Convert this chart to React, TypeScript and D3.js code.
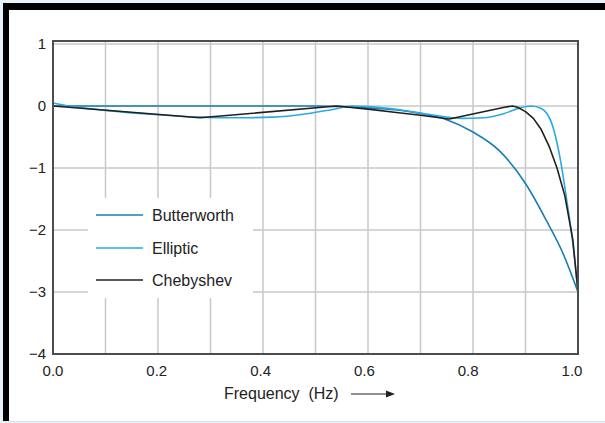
import * as d3 from 'd3';
import React from 'react';

// frequency (Hz) and response values
const butterFreq = [0, 0.5, 0.55, 0.6, 0.65, 0.7, 0.75, 0.8, 0.85, 0.9, 0.94, 0.97, 1.0];
const butterVal = [0, 0, -0.01, -0.03, -0.06, -0.12, -0.22, -0.42, -0.72, -1.25, -1.85, -2.35, -3.0];

const ellipFreq = [0, 0.03, 0.1, 0.2, 0.28, 0.35, 0.42, 0.48, 0.53, 0.57, 0.6, 0.66, 0.72, 0.78, 0.82, 0.86, 0.89, 0.91, 0.93, 0.95, 0.965, 0.98, 0.99, 1.0];
const ellipVal = [0.05, 0.0, -0.07, -0.14, -0.18, -0.19, -0.18, -0.13, -0.06, 0, -0.01, -0.06, -0.14, -0.2, -0.19, -0.12, -0.03, 0, -0.04, -0.28, -0.8, -1.6, -2.2, -3.0];

// chebyshev is drawn with straight segments, so the roll-off is read more densely
const chebFreq = [0, 0.28, 0.54, 0.6, 0.65, 0.7, 0.755, 0.86, 0.875, 0.885, 0.9, 0.915, 0.93, 0.945, 0.96, 0.975, 0.99, 1.0];
const chebVal = [0, -0.19, 0, -0.05, -0.1, -0.15, -0.21, -0.02, 0, -0.02, -0.09, -0.2, -0.38, -0.65, -1.0, -1.45, -2.15, -3.0];

const xTicks = [0, 0.2, 0.4, 0.6, 0.8, 1.0];
const xGrid = [0.1, 0.2, 0.3, 0.4, 0.5, 0.6, 0.7, 0.8, 0.9];
const yTicks = [1, 0, -1, -2, -3, -4];
const yGrid = [1, 0, -1, -2, -3];

const seriesNames = ['Butterworth', 'Elliptic', 'Chebyshev'];
const seriesColors = ['#1a7db3', '#29abe2', '#231f20'];

const FONT = '"Liberation Sans", Arial, Helvetica, sans-serif';

export default function App() {
  const W = 605;
  const H = 423;
  const left = 53;
  const right = 578;
  const top = 41;
  const bottom = 354;

  const x = d3.scaleLinear().domain([0, 1]).range([left, right]);
  const y = d3.scaleLinear().domain([-4, 1]).range([bottom, 44]);

  const smooth = d3
    .line<[number, number]>()
    .x((d) => x(d[0]))
    .y((d) => y(d[1]))
    .curve(d3.curveMonotoneX);
  const straight = d3
    .line<[number, number]>()
    .x((d) => x(d[0]))
    .y((d) => y(d[1]))
    .curve(d3.curveLinear);

  const series = [
    butterFreq.map((f, i) => [f, butterVal[i]] as [number, number]),
    ellipFreq.map((f, i) => [f, ellipVal[i]] as [number, number]),
    chebFreq.map((f, i) => [f, chebVal[i]] as [number, number]),
  ];

  const fmtY = (v: number) => (v < 0 ? '\u2212' + Math.abs(v) : String(v));
  const legendRows = [215, 248, 280];

  return (
    <div style={{ position: 'fixed', left: 0, top: 0 }}>
      <svg width={W} height={H} style={{ display: 'block' }}>
        <rect x={0} y={0} width={W} height={H} fill="#e6f4fa" />
        <rect x={3} y={3} width={W - 3} height={H - 5} fill="#fff" />
        {/* heavy black edge on top and left */}
        <rect x={3} y={3} width={W - 3} height={7} fill="#000" />
        <rect x={3} y={3} width={6} height={H - 5} fill="#000" />
        <line x1={9} x2={W} y1={421.5} y2={421.5} stroke="#e2e2e2" />

        {/* grid */}
        {xGrid.map((v) => (
          <line key={'gx' + v} x1={x(v)} x2={x(v)} y1={top} y2={bottom} stroke="#c8c8c8" strokeWidth={1.5} />
        ))}
        {yGrid.map((v) => (
          <line key={'gy' + v} x1={left} x2={right} y1={y(v)} y2={y(v)} stroke="#c8c8c8" strokeWidth={1.5} />
        ))}

        {/* curves */}
        {series.map((s, i) => (
          <path
            key={seriesNames[i]}
            d={(i === 2 ? straight(s) : smooth(s)) || ''}
            fill="none"
            stroke={seriesColors[i]}
            strokeWidth={1.6}
            strokeLinejoin="round"
          />
        ))}

        {/* frame */}
        <rect x={left} y={top} width={right - left} height={bottom - top} fill="none" stroke="#4d4d4d" strokeWidth={2} />

        {/* legend */}
        <rect x={88} y={198} width={165} height={100} fill="#fff" />
        {seriesNames.map((n, i) => (
          <g key={'lg' + n}>
            <line x1={96} x2={143} y1={legendRows[i]} y2={legendRows[i]} stroke={seriesColors[i]} strokeWidth={1.6} />
            <text x={152} y={legendRows[i]} dy="0.36em" fontSize={16} fontFamily={FONT} fill="#222">
              {n}
            </text>
          </g>
        ))}

        {/* y ticks */}
        {yTicks.map((v) => (
          <text key={'yt' + v} x={46} y={y(v)} dy="0.36em" textAnchor="end" fontSize={15} fontFamily={FONT} fill="#222">
            {fmtY(v)}
          </text>
        ))}

        {/* x ticks */}
        {xTicks.map((v) => (
          <text key={'xt' + v} x={x(v) - v * 6} y={376} textAnchor="middle" fontSize={15} fontFamily={FONT} fill="#222">
            {v.toFixed(1)}
          </text>
        ))}

        {/* x label with arrow */}
        <text x={224} y={399} fontSize={16} fontFamily={FONT} fill="#222" style={{ whiteSpace: 'pre' }}>
          {'Frequency  (Hz)'}
        </text>
        <line x1={351} x2={388} y1={394} y2={394} stroke="#222" strokeWidth={1.2} />
        <path d="M386,390.5 L395,394 L386,397.5 Z" fill="#222" />
      </svg>
    </div>
  );
}
